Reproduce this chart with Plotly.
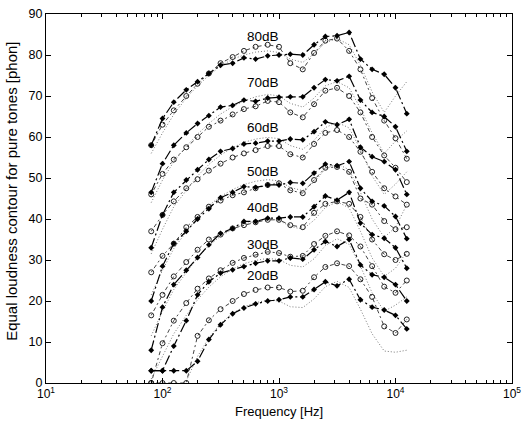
import plotly.graph_objects as go

freqs = [80, 100, 125, 160, 200, 250, 315, 400, 500, 630, 800, 1000, 1250,
         1600, 2000, 2500, 3150, 4000, 5000, 6300, 8000, 10000, 12500]

levels = ["80dB", "70dB", "60dB", "50dB", "40dB", "30dB", "20dB"]

# filled markers (measured)
F80 = [58, 64.5, 68.5, 71.5, 73.5, 75.5, 77.5, 78, 79.3, 79, 79.8, 80, 80.2, 80, 82.5, 84.5, 84.7, 85.5, 79, 76.5, 75.3, 72, 65.7]
F70 = [46.5, 53.5, 58, 61, 63.3, 65.2, 67.3, 67.7, 69, 68.7, 69.5, 69.7, 69.8, 69.8, 72, 74, 73.7, 74.8, 69, 66, 65, 62.5, 56.5]
F60 = [33, 41, 46.5, 49.5, 52, 54.5, 56.5, 57.2, 58.3, 58.5, 59, 59, 59.5, 59.3, 61.3, 63.7, 63, 64.3, 57.5, 55.2, 54, 52, 46]
F50 = [20, 28.5, 34, 37, 40, 42.5, 45.2, 46.5, 47.9, 47.7, 48.3, 48.3, 48.9, 48.7, 51.2, 53.4, 53, 54, 47.5, 44.3, 43.2, 40.6, 35.2]
F40 = [8, 18.5, 24, 27.5, 30.6, 33.7, 36.5, 37.7, 39.4, 39.4, 40.2, 40.2, 40.5, 40.5, 43, 45.6, 44.6, 46.5, 39, 36.2, 35.3, 33, 28]
F30 = [3, 3, 9, 15.2, 21.5, 24.7, 26.8, 27.6, 28.4, 29.2, 29.8, 29.8, 30.5, 30.2, 32.5, 34.5, 33.3, 35, 28.8, 26.4, 25.8, 24, 20]
F20 = [3, 3, 3, 3, 5.3, 10.6, 14.2, 16.9, 18.3, 19.3, 20, 20.3, 21, 21, 22.8, 24.7, 23.7, 25.3, 20.3, 18.5, 17.8, 16.5, 13.2]

# open circles (estimated)
O80 = [58, 63, 66.5, 70, 73, 75.5, 78, 79.5, 81, 82, 82.5, 82, 78, 76.5, 80.5, 83.5, 84, 81, 76.5, 69.5, 64, 59.7, 54.7]
O70 = [46, 51, 54.5, 57.5, 60, 62.5, 64, 65.5, 66.8, 67.5, 68.8, 68.5, 66, 64.8, 68, 71.3, 72, 70, 66, 60, 55.5, 52.5, 49]
O60 = [37, 41, 44.3, 47.5, 49.7, 51.8, 53.5, 55, 56, 56.8, 57.8, 57.8, 55.8, 55, 58.3, 61, 61.7, 60, 56.4, 51.5, 47.5, 45.5, 43.5]
O50 = [27, 31, 34, 38, 40.5, 43, 44.5, 45.8, 46.5, 47.5, 48.3, 48.7, 47, 46.3, 49.5, 52.5, 52.7, 51.5, 45, 43.5, 39.5, 37.5, 38]
O40 = [16.5, 21.5, 26, 29.5, 32.5, 35, 36.2, 37.7, 38.5, 39.2, 39.8, 39.8, 38.5, 38, 41.5, 43.7, 44.3, 43.7, 40.5, 35, 31.4, 30, 31.5]
O30 = [0, 9.7, 15.2, 19.5, 23, 25.5, 27.5, 29.3, 30.5, 31.3, 32, 31.7, 30.8, 31, 33.9, 35.9, 37, 36, 33.3, 28.5, 23.5, 22, 25]
O20 = [0, 0, 0, 0, 11.5, 15.3, 18, 20, 21.7, 22.7, 23.3, 23.3, 22.3, 22.5, 25.8, 28.3, 29.2, 28.5, 25.3, 21, 13.8, 12.2, 15.5]

# dotted reference contours (estimated)
D80 = [56, 61, 65.5, 69.5, 72.5, 75, 77.3, 79, 80, 80.7, 81, 80.6, 79, 78.2, 80.3, 83, 84, 82.5, 77.5, 71, 66, 70, 73.5]
D70 = [44, 49.5, 54, 57.7, 60.7, 63.3, 65.6, 67.4, 68.8, 69.8, 70.4, 70, 68.2, 67.3, 69.5, 72.5, 73.5, 72, 67, 61, 56, 59, 61.5]
D60 = [31.5, 37.5, 43, 47, 50.5, 53.3, 55.6, 57.4, 58.7, 59.5, 59.9, 59.6, 57.9, 57, 59.2, 62.3, 63.6, 62.2, 57, 50.5, 46, 48.5, 51.5]
D50 = [21.5, 27.5, 32.8, 37, 40.5, 43.3, 45.5, 47.2, 48.4, 49.2, 49.6, 49.3, 47.7, 46.9, 49, 52.2, 53.5, 52, 46.5, 40, 35.5, 38, 43.5]
D40 = [11.5, 17.5, 22.8, 27, 30.6, 33.5, 35.8, 37.5, 38.7, 39.5, 40, 39.7, 38.2, 37.5, 39.7, 42.8, 44.2, 42.7, 37, 30.5, 26, 28, 32]
D30 = [1, 6.5, 12, 16.5, 20.3, 23.4, 25.9, 27.8, 29.1, 29.9, 30.4, 30.1, 28.7, 28.3, 30.3, 33.5, 35.2, 33.8, 28.5, 22, 17.5, 19, 21]
D20 = [None, None, None, 0.5, 6.5, 11, 14.5, 17, 18.6, 19.6, 20.2, 20, 18.6, 18.4, 20.5, 23.5, 24.8, 23.3, 18, 12, 7.8, 7.5, 8]

label_y = [84.6, 73.4, 62.4, 51.5, 42.7, 33.7, 26.1]

x_tickvals = [10, 100, 1000, 10000, 100000]
x_ticktext = ["10<sup>1</sup>", "10<sup>2</sup>", "10<sup>3</sup>", "10<sup>4</sup>", "10<sup>5</sup>"]
y_tickvals = [0, 10, 20, 30, 40, 50, 60, 70, 80, 90]

F_all = [F80, F70, F60, F50, F40, F30, F20]
O_all = [O80, O70, O60, O50, O40, O30, O20]
D_all = [D80, D70, D60, D50, D40, D30, D20]

fig = go.Figure()
for D in D_all:
    fig.add_trace(go.Scatter(x=freqs, y=D, mode="lines", showlegend=False,
                             line=dict(color="#7a7a7a", width=1, dash="1px,2px")))
for O in O_all:
    fig.add_trace(go.Scatter(x=freqs, y=O, mode="lines+markers", showlegend=False,
                             line=dict(color="#444", width=1, dash="2px,3px,4px,3px"),
                             marker=dict(symbol="circle-open", size=5, color="#222",
                                         line=dict(width=1, color="#222"))))
for F in F_all:
    fig.add_trace(go.Scatter(x=freqs, y=F, mode="lines+markers", showlegend=False,
                             line=dict(color="black", width=1.2, dash="10px,3px,2px,3px"),
                             marker=dict(symbol="diamond", size=4.5, color="black")))

minor_vals = [m * 10 ** e for e in range(1, 5) for m in range(2, 10)]

font = "Liberation Sans, Arial, sans-serif"
fig.update_layout(
    width=524, height=428,
    margin=dict(l=46, r=12, t=14, b=45),
    paper_bgcolor="white", plot_bgcolor="white",
    font=dict(family=font, size=12, color="black"),
    xaxis=dict(type="log", range=[1, 5], tickvals=x_tickvals, ticktext=x_ticktext,
               ticks="inside", ticklen=5, tickcolor="black", showgrid=False, zeroline=False,
               showline=True, linecolor="black", linewidth=1, mirror="allticks",
               automargin=False, ticklabeloverflow="allow",
               minor=dict(tickvals=minor_vals, ticks="inside", ticklen=3, tickcolor="black",
                          showgrid=False),
               tickfont=dict(size=12)),
    yaxis=dict(range=[0, 90], tickvals=y_tickvals, ticks="inside", ticklen=5,
               tickcolor="black", showgrid=False, zeroline=False, showline=True,
               automargin=False, ticklabeloverflow="allow",
               linecolor="black", linewidth=1, mirror="allticks", tickfont=dict(size=12.5)),
)

annotations = []
for lab, yv in zip(levels, label_y):
    annotations.append(dict(x=2.86, y=yv, xref="x", yref="y", text=lab, showarrow=False,
                            font=dict(size=13.5, family=font, color="black"),
                            xanchor="center", yanchor="middle"))
annotations.append(dict(x=0.5, y=0, xref="paper", yref="paper", text="Frequency [Hz]",
                        showarrow=False, yshift=-28, xanchor="center", yanchor="middle",
                        font=dict(size=13, family=font)))
annotations.append(dict(x=0, y=0.518, xref="paper", yref="paper",
                        text="Equal loudness contour for pure tones [phon]", textangle=-90,
                        showarrow=False, xshift=-34, xanchor="center", yanchor="middle",
                        font=dict(size=15, family=font)))
fig.update_layout(annotations=annotations)

# remove the browser's default 8px page margin so the figure fills the window exactly
fig.write_html("out.html", config={"displayModeBar": False},
               post_script="document.body.style.margin='0';")
